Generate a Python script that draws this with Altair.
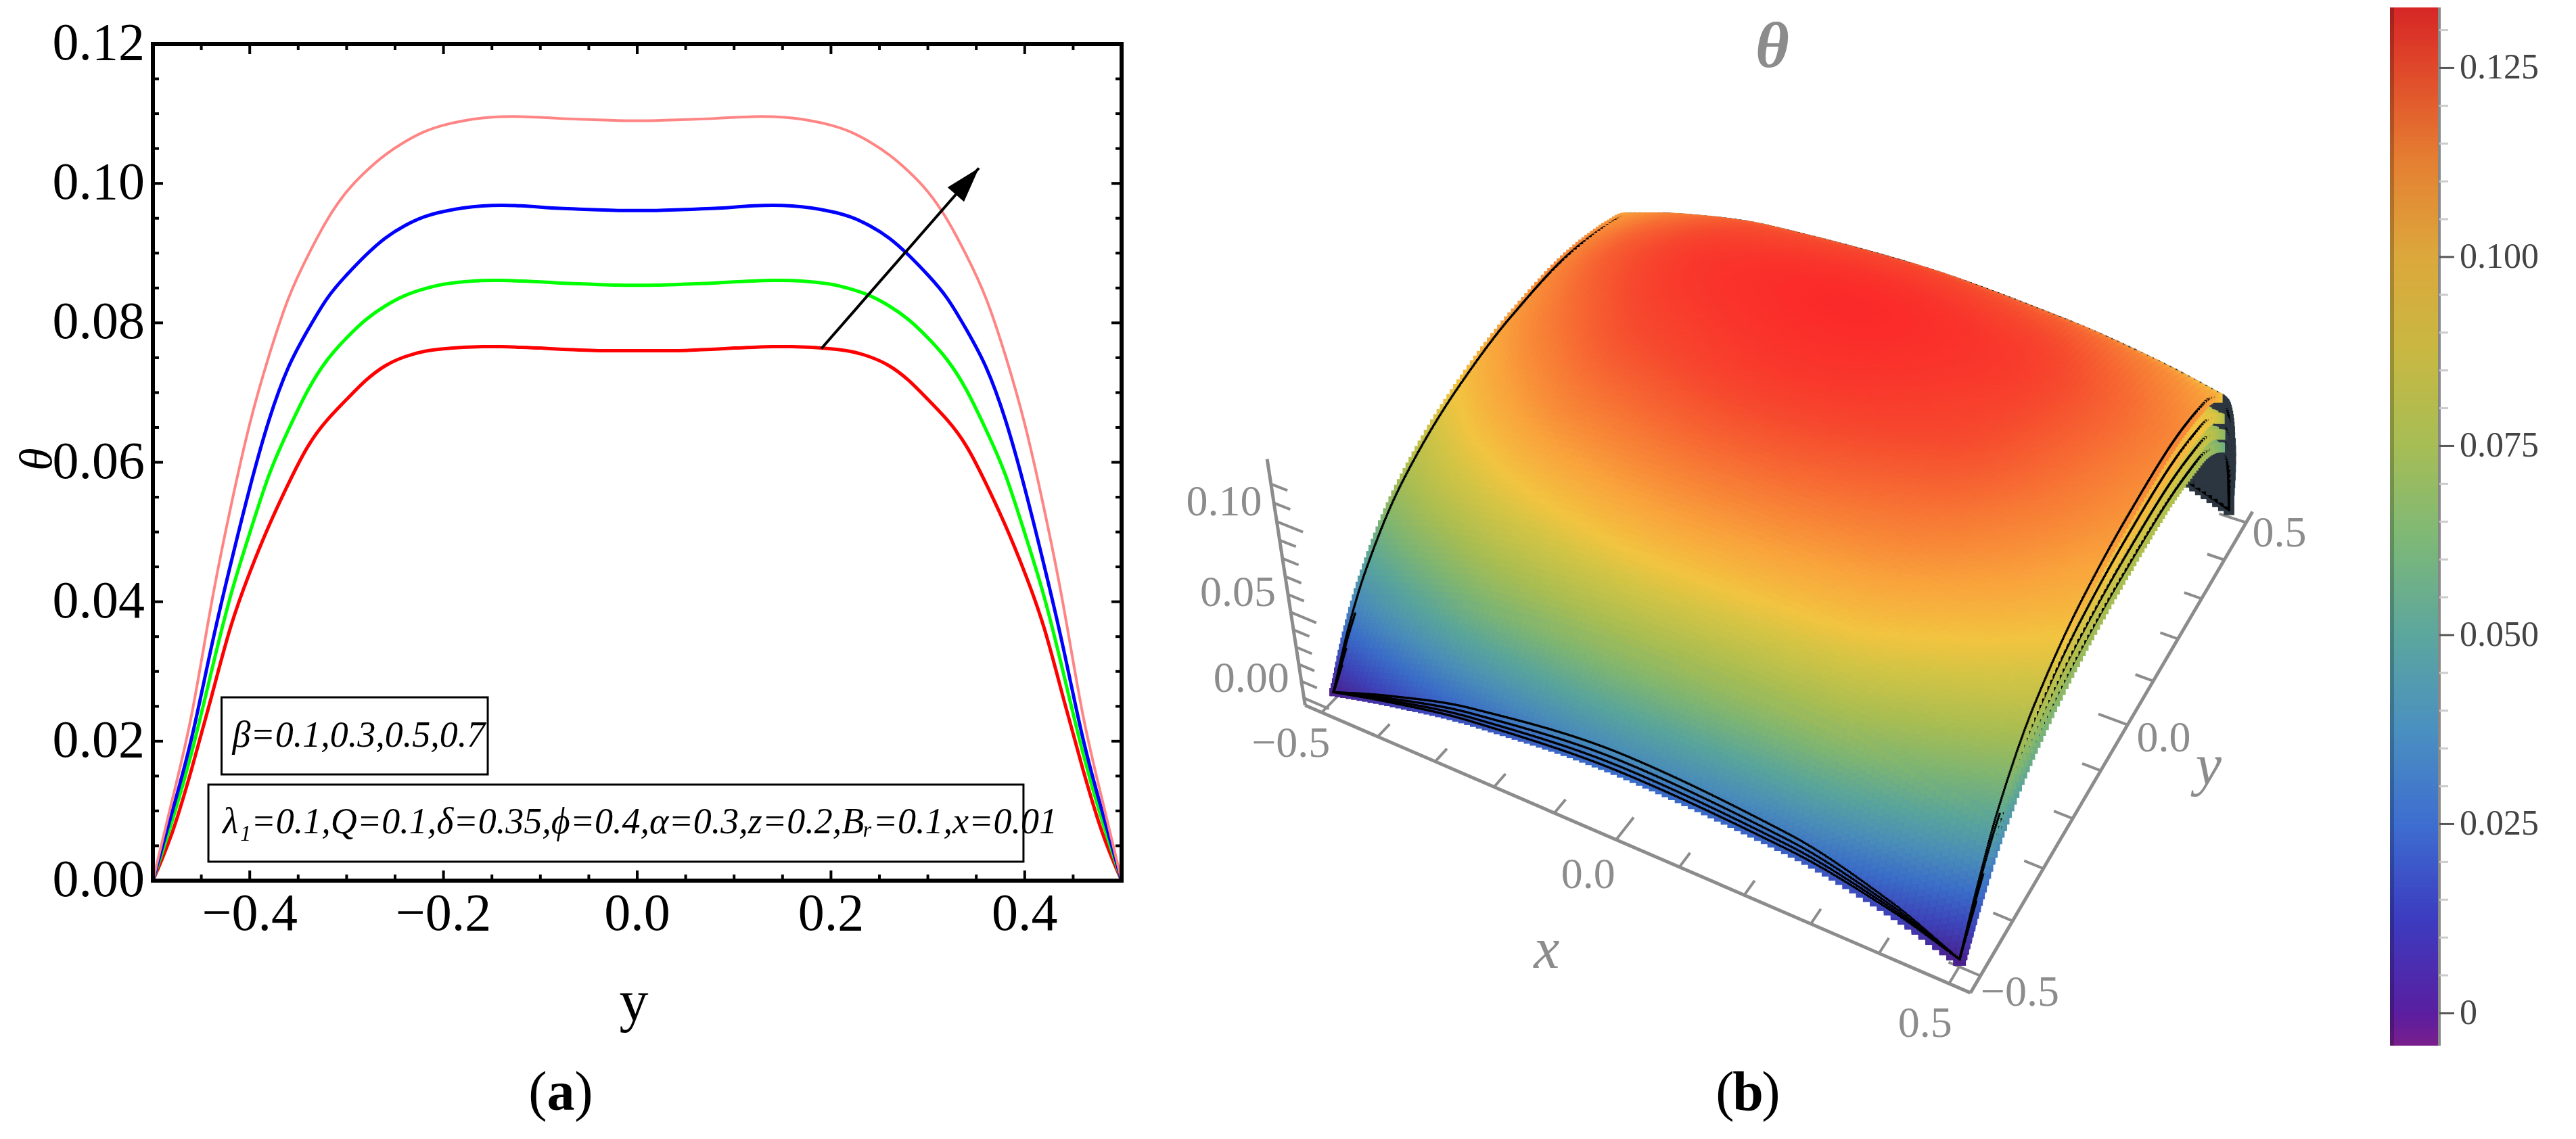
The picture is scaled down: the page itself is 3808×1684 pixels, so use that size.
import numpy as np
import pandas as pd
import altair as alt

OFF = 8
W, H = 3790, 1666
SERIF = "Liberation Serif"

# ---------------- panel (a): theta(y) for four beta values ----------------
y_half = [-0.50, -0.48, -0.46, -0.44, -0.42, -0.40, -0.38, -0.36, -0.34, -0.32,
          -0.30, -0.28, -0.26, -0.24, -0.22, -0.20, -0.18, -0.16, -0.14, -0.12,
          -0.10, -0.08, -0.06, -0.04, -0.02, 0.00]
theta_b01 = [0.0, 0.0064, 0.0159, 0.0260, 0.0368, 0.0443, 0.0511, 0.0570, 0.0626, 0.0662,
             0.0690, 0.0719, 0.0740, 0.0752, 0.0760, 0.0763, 0.0765, 0.0766, 0.0766, 0.0765,
             0.0764, 0.0762, 0.0761, 0.0760, 0.0760, 0.0760]
theta_b03 = [0.0, 0.0084, 0.0180, 0.0298, 0.0412, 0.0498, 0.0587, 0.0647, 0.0706, 0.0749,
             0.0779, 0.0806, 0.0825, 0.0840, 0.0849, 0.0856, 0.0859, 0.0861, 0.0861, 0.0860,
             0.0859, 0.0857, 0.0856, 0.0855, 0.0854, 0.0854]
theta_b05 = [0.0, 0.0099, 0.0198, 0.0336, 0.0453, 0.0565, 0.0665, 0.0741, 0.0790, 0.0838,
             0.0869, 0.0898, 0.0923, 0.0940, 0.0953, 0.0960, 0.0965, 0.0968, 0.0969, 0.0968,
             0.0966, 0.0964, 0.0963, 0.0962, 0.0961, 0.0961]
theta_b07 = [0.0, 0.0117, 0.0228, 0.0400, 0.0535, 0.0660, 0.0755, 0.0840, 0.0897, 0.0950,
             0.0990, 0.1018, 0.1042, 0.1060, 0.1075, 0.1084, 0.1090, 0.1094, 0.1096, 0.1096,
             0.1095, 0.1093, 0.1092, 0.1091, 0.1090, 0.1090]
beta_colors = ["#ff0000", "#00ff00", "#0000ff", "#ff8585"]
beta_widths = [5, 5, 5, 4]

x_major = [-0.4, -0.2, 0.0, 0.2, 0.4]
x_major_labels = ["\u22120.4", "\u22120.2", "0.0", "0.2", "0.4"]
x_minor = [-0.45, -0.35, -0.30, -0.25, -0.15, -0.10, -0.05, 0.05, 0.10, 0.15, 0.25, 0.30, 0.35, 0.45]
y_major = [0.00, 0.02, 0.04, 0.06, 0.08, 0.10, 0.12]
y_major_labels = ["0.00", "0.02", "0.04", "0.06", "0.08", "0.10", "0.12"]
y_minor = [0.005, 0.010, 0.015, 0.025, 0.030, 0.035, 0.045, 0.050, 0.055, 0.065, 0.070, 0.075,
           0.085, 0.090, 0.095, 0.105, 0.110, 0.115]
frame_x = [-0.5, 0.5]
frame_theta = [0.0, 0.12]
arrow_y = [0.19, 0.3527]
arrow_theta = [0.0763, 0.1022]
box1_y = [-0.4291, -0.1543]
box1_theta = [0.01523, 0.02629]
box2_y = [-0.4427, 0.3987]
box2_theta = [0.00272, 0.01378]
legend1_text = "\u03b2=0.1,0.3,0.5,0.7"
legend1_pos = [-0.418, 0.0208]
legend2_text = "\u03bb\u2081=0.1,Q=0.1,\u03b4=0.35,\u03d5=0.4,\u03b1=0.3,z=0.2,B\u1d63=0.1,x=0.01"
legend2_pos = [-0.428, 0.0083]

# ---------------- panel (b): surface theta(x, y) ----------------
surf_x = [-0.5, -0.4, -0.25, 0.0, 0.25, 0.4, 0.5]
surf_y = [-0.5, -0.45, -0.4, -0.3, -0.15, 0.0, 0.15, 0.3, 0.4, 0.45, 0.5]
surf_theta = [
    [0.000, 0.026, 0.046, 0.073, 0.095, 0.107, 0.112, 0.107, 0.084, 0.060, 0.000],
    [0.012, 0.038, 0.058, 0.085, 0.106, 0.117, 0.122, 0.116, 0.093, 0.067, 0.012],
    [0.026, 0.052, 0.072, 0.096, 0.116, 0.126, 0.130, 0.124, 0.101, 0.076, 0.026],
    [0.036, 0.060, 0.080, 0.103, 0.121, 0.130, 0.133, 0.127, 0.104, 0.080, 0.036],
    [0.030, 0.057, 0.078, 0.100, 0.117, 0.126, 0.129, 0.122, 0.099, 0.075, 0.030],
    [0.016, 0.044, 0.066, 0.091, 0.109, 0.117, 0.120, 0.114, 0.092, 0.066, 0.016],
    [0.000, 0.030, 0.054, 0.082, 0.101, 0.109, 0.112, 0.106, 0.085, 0.060, 0.000],
]
layer_heights = [0.70, 0.786, 0.884, 1.0]   # relative heights of the stacked beta surfaces
ZMIN, ZMAX = -0.0043, 0.133
axis3d_x_ticks = [-0.5, -0.4, -0.3, -0.2, -0.1, 0.0, 0.1, 0.2, 0.3, 0.4, 0.5]
axis3d_x_labels = {-0.5: "\u22120.5", 0.0: "0.0", 0.5: "0.5"}
axis3d_z_ticks = [0.0, 0.01, 0.02, 0.03, 0.04, 0.05, 0.06, 0.07, 0.08, 0.09, 0.10, 0.11, 0.12]
axis3d_z_labels = {0.0: "0.00", 0.05: "0.05", 0.10: "0.10"}

cbar_ticks = [0.0, 0.025, 0.05, 0.075, 0.1, 0.125]
cbar_labels = ["0", "0.025", "0.050", "0.075", "0.100", "0.125"]
cbar_minor = [0.005, 0.010, 0.015, 0.020, 0.030, 0.035, 0.040, 0.045, 0.055, 0.060, 0.065, 0.070,
              0.080, 0.085, 0.090, 0.095, 0.105, 0.110, 0.115, 0.120, 0.130]

cb_dom = [-0.0043, 0.0, 0.0125, 0.025, 0.0375, 0.05, 0.0625, 0.075, 0.0875, 0.1, 0.1125, 0.125, 0.133]
cb_rng = ["#7a1f8c", "#5a1ea0", "#3c3cc0", "#3e6ed0", "#4a90c0", "#5ca69e", "#7db878", "#a6bd55",
          "#c8b842", "#dca83c", "#e58032", "#e0482a", "#d62626"]
sf_dom = [-0.04, -0.02, -0.0043, 0.0, 0.0125, 0.025, 0.0375, 0.05, 0.0625, 0.075, 0.0875, 0.095,
          0.105, 0.115, 0.125, 0.133]
sf_rng = ["#000000", "#2c3640", "#4a1a78", "#4b1f8c", "#3d42b8", "#3a6cc8", "#4a8eb8", "#5aa59a",
          "#7eb572", "#a8bd52", "#d2c445", "#f2c440", "#f9a43c", "#f77a35", "#f64a2e", "#fb2a2a"]

# =====================================================================
layers = []

xs_a = alt.Scale(domain=[-0.5, 0.5], range=[226 - OFF, 1658 - OFF], nice=False, zero=False)
ys_a = alt.Scale(domain=[0.0, 0.12], range=[1302 - OFF, 65 - OFF], nice=False, zero=False)


def XA(f):
    return alt.X(f, type="quantitative", scale=xs_a, axis=None)


def YA(f):
    return alt.Y(f, type="quantitative", scale=ys_a, axis=None)


def mirror(vals):
    return list(vals) + list(vals[-2::-1])


y_full = y_half + [-v for v in y_half[-2::-1]]
for vals, col, sw in zip([theta_b01, theta_b03, theta_b05, theta_b07], beta_colors, beta_widths):
    d = pd.DataFrame({"yv": y_full, "th": mirror(vals)})
    layers.append(alt.Chart(d).mark_line(color=col, strokeWidth=sw, interpolate="basis")
                  .encode(x=XA("yv"), y=YA("th")))

# frame
fr = pd.DataFrame({"x0": [frame_x[0]], "x1": [frame_x[1]], "t0": [frame_theta[0]], "t1": [frame_theta[1]]})
layers.append(alt.Chart(fr).mark_rect(fillOpacity=0, stroke="black", strokeWidth=6)
              .encode(x=XA("x0"), x2="x1", y=YA("t0"), y2="t1"))

# frame ticks (inward, all four sides)
for vals, L in [(x_major, 15), (x_minor, 9)]:
    d = pd.DataFrame({"v": vals})
    layers.append(alt.Chart(d).mark_rule(color="black", strokeWidth=4)
                  .encode(x=XA("v"), y=alt.value(1302 - OFF), y2=alt.value(1302 - OFF - L)))
    layers.append(alt.Chart(d).mark_rule(color="black", strokeWidth=4)
                  .encode(x=XA("v"), y=alt.value(65 - OFF), y2=alt.value(65 - OFF + L)))
for vals, L in [(y_major, 15), (y_minor, 9)]:
    d = pd.DataFrame({"v": vals})
    layers.append(alt.Chart(d).mark_rule(color="black", strokeWidth=4)
                  .encode(y=YA("v"), x=alt.value(226 - OFF), x2=alt.value(226 - OFF + L)))
    layers.append(alt.Chart(d).mark_rule(color="black", strokeWidth=4)
                  .encode(y=YA("v"), x=alt.value(1658 - OFF), x2=alt.value(1658 - OFF - L)))

# tick labels
layers.append(alt.Chart(pd.DataFrame({"v": x_major, "t": x_major_labels}))
              .mark_text(font=SERIF, fontSize=78, baseline="middle", color="black")
              .encode(x=XA("v"), y=alt.value(1352 - OFF), text="t:N"))
layers.append(alt.Chart(pd.DataFrame({"v": y_major, "t": y_major_labels}))
              .mark_text(font=SERIF, fontSize=78, baseline="middle", align="right", color="black")
              .encode(y=YA("v"), x=alt.value(214 - OFF), text="t:N"))

# axis titles, panel label
layers.append(alt.Chart(pd.DataFrame({"t": ["y"]}))
              .mark_text(font=SERIF, fontSize=86, baseline="middle", color="black")
              .encode(x=alt.value(937 - OFF), y=alt.value(1482 - OFF), text="t:N"))
layers.append(alt.Chart(pd.DataFrame({"t": ["\u03b8"]}))
              .mark_text(font=SERIF, fontSize=68, fontStyle="italic", baseline="middle", angle=270, color="black")
              .encode(x=alt.value(56 - OFF), y=alt.value(679 - OFF), text="t:N"))


def panel_label(letter, cx, cy):
    out = []
    for txt, dx, wt in [("(", -34, "normal"), (letter, 0, "bold"), (")", 34, "normal")]:
        out.append(alt.Chart(pd.DataFrame({"t": [txt]}))
                   .mark_text(font=SERIF, fontSize=82, baseline="middle", color="black", fontWeight=wt)
                   .encode(x=alt.value(cx - OFF + dx), y=alt.value(cy - OFF), text="t:N"))
    return out


layers += panel_label("a", 829, 1616)

# legend boxes and texts
for bx, bt in [(box1_y, box1_theta), (box2_y, box2_theta)]:
    d = pd.DataFrame({"x0": [bx[0]], "x1": [bx[1]], "t0": [bt[0]], "t1": [bt[1]]})
    layers.append(alt.Chart(d).mark_rect(fillOpacity=0, stroke="black", strokeWidth=3)
                  .encode(x=XA("x0"), x2="x1", y=YA("t0"), y2="t1"))
for txt, pos in [(legend1_text, legend1_pos), (legend2_text, legend2_pos)]:
    d = pd.DataFrame({"x": [pos[0]], "t": [pos[1]], "s": [txt]})
    layers.append(alt.Chart(d).mark_text(font=SERIF, fontSize=54, fontStyle="italic", align="left",
                                         baseline="middle", color="black")
                  .encode(x=XA("x"), y=YA("t"), text="s:N"))

# arrow
ad = pd.DataFrame({"x0": [arrow_y[0]], "x1": [arrow_y[1]], "t0": [arrow_theta[0]], "t1": [arrow_theta[1]]})
layers.append(alt.Chart(ad).mark_rule(color="black", strokeWidth=4)
              .encode(x=XA("x0"), x2="x1", y=YA("t0"), y2="t1"))
ppx = (1658 - 226) / 1.0
ppy = (1302 - 65) / 0.12
dxp = (arrow_y[1] - arrow_y[0]) * ppx
dyp = (arrow_theta[1] - arrow_theta[0]) * ppy
ang = float(np.degrees(np.arctan2(dxp, dyp)))
ln = np.hypot(dxp, dyp)
head_len = 52.0
hx = arrow_y[1] - (head_len / 2) * dxp / ln / ppx
ht = arrow_theta[1] - (head_len / 2) * dyp / ln / ppy
layers.append(alt.Chart(pd.DataFrame({"x": [hx], "t": [ht]}))
              .mark_point(shape="M0,-1L0.62,1L-0.62,1Z", filled=True, fill="black", strokeWidth=0,
                          opacity=1, size=head_len ** 2, angle=ang)
              .encode(x=XA("x"), y=YA("t")))

# =====================================================================
# panel (b): perspective projection of the surface


def pchip(xk, yk, xq):
    xk = np.asarray(xk, float)
    yk = np.asarray(yk, float)
    xq = np.asarray(xq, float)
    h = np.diff(xk)
    dl = np.diff(yk) / h
    n = len(xk)
    m = np.zeros(n)
    for i in range(1, n - 1):
        if dl[i - 1] * dl[i] > 0:
            w1 = 2 * h[i] + h[i - 1]
            w2 = h[i] + 2 * h[i - 1]
            m[i] = (w1 + w2) / (w1 / dl[i - 1] + w2 / dl[i])
    m[0] = dl[0]
    m[-1] = dl[-1]
    idx = np.clip(np.searchsorted(xk, xq, side="right") - 1, 0, n - 2)
    t = (xq - xk[idx]) / h[idx]
    h00 = 2 * t ** 3 - 3 * t ** 2 + 1
    h10 = t ** 3 - 2 * t ** 2 + t
    h01 = -2 * t ** 3 + 3 * t ** 2
    h11 = t ** 3 - t ** 2
    return h00 * yk[idx] + h10 * h[idx] * m[idx] + h01 * yk[idx + 1] + h11 * h[idx] * m[idx + 1]


CAM = np.array([1.3, -2.4, 2.0])
dvec = -CAM / np.linalg.norm(CAM)
rvec = np.cross(dvec, np.array([0.0, 0.0, 1.0]))
rvec /= np.linalg.norm(rvec)
uvec = np.cross(rvec, dvec)
XC, YC, KX, KY = 2664.0, 721.0, 3405.0, 3725.0


def box_z(th):
    return -0.2 + 0.4 * (np.asarray(th, float) - ZMIN) / (ZMAX - ZMIN)


def project(x, y, z):
    rx = np.asarray(x, float) - CAM[0]
    ry = np.asarray(y, float) - CAM[1]
    rz = np.asarray(z, float) - CAM[2]
    depth = rx * dvec[0] + ry * dvec[1] + rz * dvec[2]
    sx = (rx * rvec[0] + ry * rvec[1] + rz * rvec[2]) / depth
    sy = (rx * uvec[0] + ry * uvec[1] + rz * uvec[2]) / depth
    return XC + KX * sx - OFF, YC - KY * sy - OFF, depth


def vspace(n):
    t = np.linspace(0, 1, n)
    return 0.5 * (-0.5 * np.cos(np.pi * t)) + 0.5 * (t - 0.5)


def surface(fac, nu, nv, strips):
    uu = np.linspace(-0.5, 0.5, nu)
    vv = vspace(nv)
    R = np.array([pchip(surf_y, row, vv) for row in surf_theta])
    T = np.array([pchip(surf_x, R[:, j], uu) for j in range(nv)]).T * fac
    UU, VV = np.meshgrid(uu, vv, indexing="ij")
    Z = box_z(T)
    X, Y, D = project(UU, VV, Z)
    su = np.hypot(np.gradient(X, axis=0), np.gradient(Y, axis=0))
    sv = np.hypot(np.gradient(X, axis=1), np.gradient(Y, axis=1))
    side = np.clip(np.maximum(su, sv) * 1.3 + 1.5, 2.0, 30.0)
    dzdx = np.gradient(Z, uu, axis=0)
    dzdy = np.gradient(Z, vv, axis=1)
    facing = -dzdx * (CAM[0] - UU) - dzdy * (CAM[1] - VV) + (CAM[2] - Z)
    c = np.where(facing < 0, -0.02, T)
    keep = np.ones_like(T, dtype=bool)
    if strips:
        keep = (VV < -0.3) | (VV > 0.3) | (UU > 0.3) | (UU < -0.42)
    return pd.DataFrame({"X": X[keep], "Y": Y[keep], "c": c[keep], "s": side[keep] ** 2, "o": -D[keep]})


def edges(fac):
    out = []
    t = vspace(520)
    for xe, row in [(-0.5, surf_theta[0]), (0.5, surf_theta[-1])]:
        th = pchip(surf_y, row, t) * fac
        X, Y, D = project(np.full_like(t, xe), t, box_z(th))
        out.append(pd.DataFrame({"X": X, "Y": Y, "c": -0.04, "s": 10.0, "o": -D + 0.012}))
    xq = np.linspace(-0.5, 0.5, 440)
    for j, ye in [(0, -0.5), (-1, 0.5)]:
        col = [r[j] for r in surf_theta]
        th = pchip(surf_x, col, xq) * fac
        X, Y, D = project(xq, np.full_like(xq, ye), box_z(th))
        out.append(pd.DataFrame({"X": X, "Y": Y, "c": -0.04, "s": 10.0, "o": -D + 0.012}))
    return pd.concat(out)


parts = []
for fac in layer_heights[:-1]:
    parts.append(surface(fac, 100, 130, True))
    parts.append(edges(fac))
parts.append(surface(layer_heights[-1], 110, 140, False))
parts.append(edges(layer_heights[-1]))
pts = pd.concat(parts).sort_values("o").reset_index(drop=True)
pts = pts[["X", "Y", "c", "s"]].round({"X": 1, "Y": 1, "c": 4, "s": 1})

xs_p = alt.Scale(domain=[0, W], range=[0, W], nice=False, zero=False)
ys_p = alt.Scale(domain=[0, H], range=[0, H], nice=False, zero=False)

# 3D axes
PAD = 0.53
ZB = -0.2


def seg(p0, p1):
    X0, Y0, _ = project(p0[0], p0[1], p0[2])
    X1, Y1, _ = project(p1[0], p1[1], p1[2])
    return {"X": float(X0), "Y": float(Y0), "X2": float(X1), "Y2": float(Y1)}


axis_lines = [seg((-PAD, -PAD, ZB), (PAD, -PAD, ZB)),
              seg((PAD, -PAD, ZB), (PAD, PAD, ZB)),
              seg((-PAD, -PAD, ZB), (-PAD, -PAD, 0.2))]
tick_lines = []
for v in axis3d_x_ticks:
    L = 0.045 if v in axis3d_x_labels else 0.028
    tick_lines.append(seg((v, -PAD, ZB), (v, -PAD + L, ZB)))
    tick_lines.append(seg((PAD, v, ZB), (PAD - L, v, ZB)))
for v in axis3d_z_ticks:
    L = 0.045 if any(abs(v - k) < 1e-9 for k in axis3d_z_labels) else 0.028
    z = float(box_z(v))
    tick_lines.append(seg((-PAD, -PAD, z), (-PAD + L, -PAD, z)))

for dfl, sw in [(pd.DataFrame(axis_lines), 5), (pd.DataFrame(tick_lines), 4)]:
    layers.append(alt.Chart(dfl).mark_rule(color="#8c8c8c", strokeWidth=sw)
                  .encode(x=alt.X("X:Q", scale=xs_p, axis=None), y=alt.Y("Y:Q", scale=ys_p, axis=None),
                          x2="X2", y2="Y2"))

# surface points
layers.append(alt.Chart(pts).mark_square(opacity=1, strokeWidth=0)
              .encode(x=alt.X("X:Q", scale=xs_p, axis=None), y=alt.Y("Y:Q", scale=ys_p, axis=None),
                      color=alt.Color("c:Q", scale=alt.Scale(domain=sf_dom, range=sf_rng, interpolate="rgb"),
                                      legend=None),
                      size=alt.Size("s:Q", scale=None, legend=None)))

# 3D labels
lab_rows = []
for v, t in axis3d_x_labels.items():
    X, Y, _ = project(v, -0.60, ZB)
    lab_rows.append({"X": float(X), "Y": float(Y), "t": t})
for v, t in axis3d_x_labels.items():
    X, Y, _ = project(0.585, v, ZB)
    lab_rows.append({"X": float(X), "Y": float(Y), "t": t})
layers.append(alt.Chart(pd.DataFrame(lab_rows))
              .mark_text(font=SERIF, fontSize=64, color="#8c8c8c", baseline="middle")
              .encode(x=alt.X("X:Q", scale=xs_p, axis=None), y=alt.Y("Y:Q", scale=ys_p, axis=None), text="t:N"))
zl = []
for v, t in axis3d_z_labels.items():
    X, Y, _ = project(-PAD, -PAD, float(box_z(v)))
    zl.append({"X": float(X), "Y": float(Y), "t": t})
layers.append(alt.Chart(pd.DataFrame(zl))
              .mark_text(font=SERIF, fontSize=64, color="#8c8c8c", baseline="middle", align="right", dx=-22, dy=-28)
              .encode(x=alt.X("X:Q", scale=xs_p, axis=None), y=alt.Y("Y:Q", scale=ys_p, axis=None), text="t:N"))
nm = []
X, Y, _ = project(0.02, -0.73, ZB)
nm.append({"X": float(X), "Y": float(Y), "t": "x"})
X, Y, _ = project(0.66, -0.02, ZB)
nm.append({"X": float(X), "Y": float(Y), "t": "y"})
layers.append(alt.Chart(pd.DataFrame(nm))
              .mark_text(font=SERIF, fontSize=86, fontStyle="italic", color="#8c8c8c", baseline="middle")
              .encode(x=alt.X("X:Q", scale=xs_p, axis=None), y=alt.Y("Y:Q", scale=ys_p, axis=None), text="t:N"))

layers.append(alt.Chart(pd.DataFrame({"t": ["\u03b8"]}))
              .mark_text(font=SERIF, fontSize=96, fontStyle="italic", fontWeight="bold", color="#8c8c8c",
                         baseline="middle")
              .encode(x=alt.value(2620 - OFF), y=alt.value(70 - OFF), text="t:N"))
layers += panel_label("b", 2584, 1616)

# ---------------- colour bar ----------------
cys = alt.Scale(domain=[ZMIN, ZMAX], range=[1546 - OFF, 11 - OFF], nice=False, zero=False)
nb = 320
edges_cb = np.linspace(ZMIN, ZMAX, nb + 1)
step = edges_cb[1] - edges_cb[0]
cbd = pd.DataFrame({"v0": edges_cb[:-1], "v1": np.minimum(edges_cb[1:] + 0.8 * step, ZMAX),
                    "vm": 0.5 * (edges_cb[:-1] + edges_cb[1:])})
layers.append(alt.Chart(cbd).mark_rect(strokeWidth=0)
              .encode(y=alt.Y("v0:Q", scale=cys, axis=None), y2="v1",
                      x=alt.value(3533 - OFF), x2=alt.value(3604 - OFF),
                      color=alt.Color("vm:Q", scale=alt.Scale(domain=cb_dom, range=cb_rng, interpolate="rgb"),
                                      legend=None)))
edge_df = pd.DataFrame({"a": [ZMIN], "b": [ZMAX]})
layers.append(alt.Chart(edge_df).mark_rect(color="black", opacity=0.22)
              .encode(y=alt.Y("a:Q", scale=cys, axis=None), y2="b",
                      x=alt.value(3533 - OFF), x2=alt.value(3539 - OFF)))
layers.append(alt.Chart(edge_df).mark_rule(color="#888888", strokeWidth=4)
              .encode(y=alt.Y("a:Q", scale=cys, axis=None), y2="b", x=alt.value(3606 - OFF)))
layers.append(alt.Chart(pd.DataFrame({"v": cbar_minor})).mark_rule(color="#cccccc", strokeWidth=3)
              .encode(y=alt.Y("v:Q", scale=cys, axis=None), x=alt.value(3606 - OFF), x2=alt.value(3619 - OFF)))
layers.append(alt.Chart(pd.DataFrame({"v": cbar_ticks})).mark_rule(color="#555555", strokeWidth=3)
              .encode(y=alt.Y("v:Q", scale=cys, axis=None), x=alt.value(3606 - OFF), x2=alt.value(3628 - OFF)))
layers.append(alt.Chart(pd.DataFrame({"v": cbar_ticks, "t": cbar_labels}))
              .mark_text(font=SERIF, fontSize=52, color="#444444", align="left", baseline="middle")
              .encode(y=alt.Y("v:Q", scale=cys, axis=None), x=alt.value(3636 - OFF), text="t:N"))

chart = (alt.layer(*layers)
         .resolve_scale(x="independent", y="independent", color="independent", size="independent")
         .properties(width=W, height=H, autosize=alt.AutoSizeParams(type="none"), padding=0)
         .configure_view(strokeWidth=0))

chart.save("out.html", embed_options={"renderer": "svg", "actions": False})
